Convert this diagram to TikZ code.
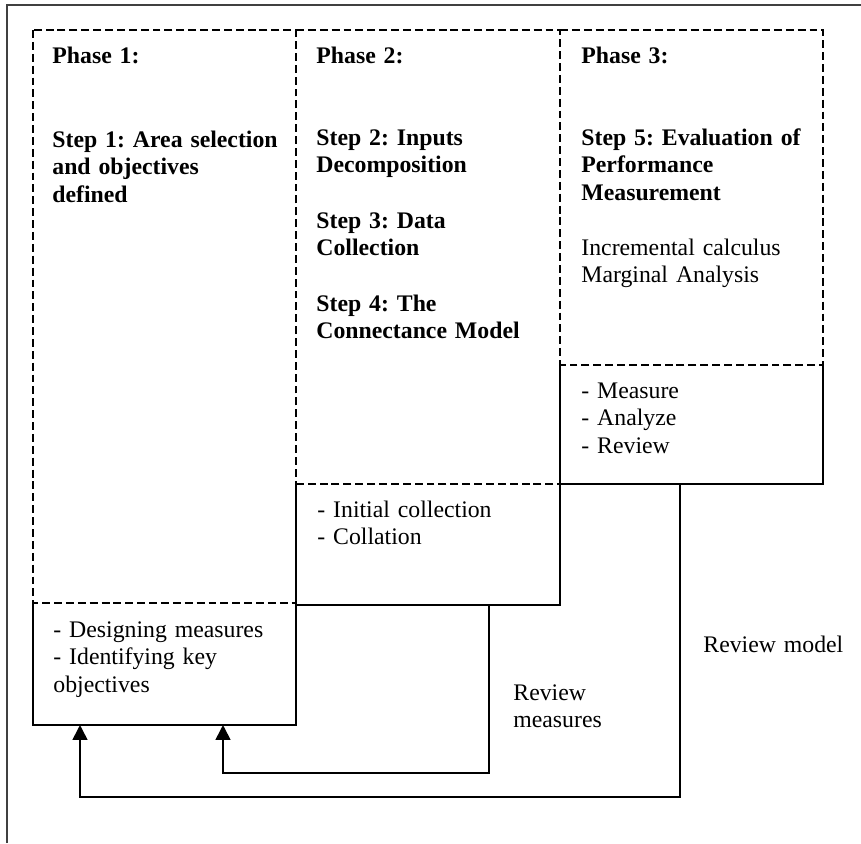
\documentclass[tikz,border=0pt]{standalone}
\usepackage{fontspec}
\setmainfont{Liberation Serif}
\usetikzlibrary{arrows.meta,fit}
\begin{document}
\frenchspacing
\begin{tikzpicture}[x=0.505pt,y=-0.505pt,
  txt/.style={anchor=base west,inner sep=0pt,text width=150pt,align=left,
    font=\fontsize{12pt}{13.9pt}\selectfont\frenchspacing},
  btxt/.style={txt,font=\fontsize{12pt}{13.9pt}\selectfont\bfseries\frenchspacing},
  dashline/.style={dashed,dash pattern=on 4pt off 2pt,line width=0.7pt},
  area/.style={inner sep=0pt,outer sep=0pt},
  edge/.style={line width=0.85pt},
  arr/.style={line width=0.85pt,-{Triangle[length=7.5pt,width=7.5pt]}},
  frame/.style={line width=1pt,black!75}]
\useasboundingbox (0,0) rectangle (861,843);
% outer frame
\coordinate (fb) at (7,843);
\coordinate (fc) at (7,5);
\coordinate (fr) at (861,5);
\draw[frame] (fb) -- (fc) -- (fr);
% dashed phase columns
\node[area,fit={(33,30) (296,603)}] (col1) {};
\node[area,fit={(296,30) (560,484)}] (col2) {};
\node[area,fit={(560,30) (823,365)}] (col3) {};
\draw[dashline] (col1.north west) rectangle (col1.south east);
\draw[dashline] (col2.north west) -- (col2.north east) -- (col2.south east) -- (col2.south west);
\draw[dashline] (col3.north west) -- (col3.north east) -- (col3.south east) -- (col3.south west);
% solid activity boxes (top edge is the dashed column bottom)
\node[area,fit={(33,603) (296,725)}] (box1) {};
\node[area,fit={(296,484) (560,605)}] (box2) {};
\node[area,fit={(560,365) (823,484)}] (box3) {};
\draw[edge] (box1.north west) -- (box1.south west) -- (box1.south east) -- (box1.north east);
\draw[edge] (box2.north west) -- (box2.south west) -- (box2.south east) -- (box2.north east);
\draw[edge] (box3.north west) -- (box3.south west) -- (box3.south east) -- (box3.north east);
% texts
\node[btxt] (p1) at (52,63) {Phase 1:};
\node[btxt] (s1) at (52,147) {Step 1: Area selection\\and objectives\\defined};
\node[txt] (d1) at (53,637) {- Designing measures\\- Identifying key\\objectives};
\node[btxt] (p2) at (316,63) {Phase 2:};
\node[btxt] (s2) at (316,145) {Step 2: Inputs\\Decomposition};
\node[btxt] (s3) at (316,228) {Step 3: Data\\Collection};
\node[btxt] (s4) at (316,311) {Step 4: The\\Connectance Model};
\node[txt] (d2) at (317,517) {- Initial collection\\- Collation};
\node[btxt] (p3) at (581,63) {Phase 3:};
\node[btxt] (s5) at (581,145) {Step 5: Evaluation of\\Performance\\Measurement};
\node[txt] (i5) at (581,255) {Incremental calculus\\Marginal Analysis};
\node[txt] (d3) at (581,398) {- Measure\\- Analyze\\- Review};
\node[txt] (rm) at (703,652) {Review model};
\node[txt] (rms) at (513,700) {Review\\measures};
% feedback connectors
\coordinate (c1) at (489,773);
\coordinate (c2) at (223,773);
\coordinate (c3) at (680,797);
\coordinate (c4) at (80,797);
\draw[arr] (box2.south -| c1) -- (c1) -- (c2) -- (box1.south -| c2);
\draw[arr] (box3.south -| c3) -- (c3) -- (c4) -- (box1.south -| c4);
\end{tikzpicture}
\end{document}
